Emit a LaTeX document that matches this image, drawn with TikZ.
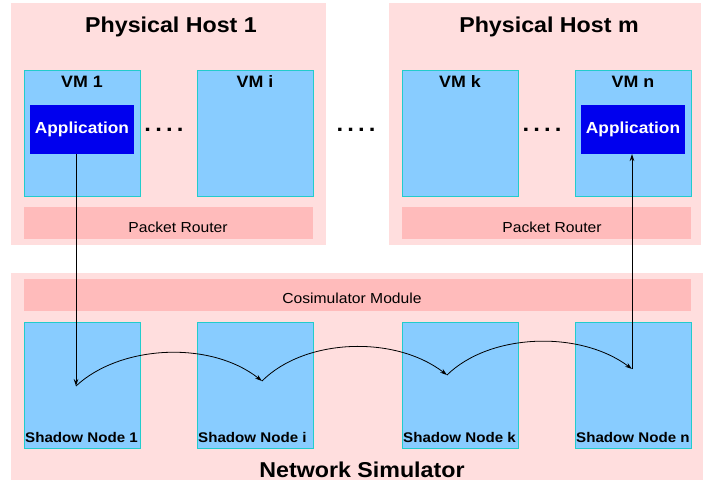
\documentclass[tikz,border=0pt]{standalone}
\usepackage{fontspec}
\setmainfont[FakeStretch=1.08]{Liberation Sans}
\usetikzlibrary{arrows.meta}
\definecolor{hostbg}{HTML}{FFDEDE}
\definecolor{router}{HTML}{FFBBBB}
\definecolor{vmfill}{HTML}{88CCFF}
\definecolor{vmline}{HTML}{22CCCC}
\definecolor{appfill}{HTML}{0000EE}
\tikzset{
  hostbox/.style={fill=hostbg, draw=none, inner sep=0pt, outer sep=0pt},
  routerbox/.style={fill=router, draw=none, inner sep=0pt, outer sep=0pt},
  vmbox/.style={fill=vmfill, draw=vmline, line width=0.8pt, inner sep=0pt, outer sep=0pt, minimum width=116pt, minimum height=126pt},
  appbox/.style={fill=appfill, draw=none, inner sep=0pt, outer sep=0pt, minimum width=104pt, minimum height=49pt, text=white, font=\bfseries\fontsize{16}{16}\selectfont},
  titletext/.style={font=\bfseries\fontsize{21.5}{22}\selectfont, anchor=base, inner sep=0pt},
  vmtext/.style={font=\bfseries\fontsize{16.5}{17}\selectfont, anchor=base, inner sep=0pt},
  routertext/.style={font=\fontsize{14.5}{15}\selectfont, anchor=base, inner sep=0pt},
  shadowtext/.style={font=\bfseries\fontsize{14}{14}\selectfont, anchor=base west, inner sep=0pt},
  dotstext/.style={font=\bfseries\fontsize{22}{22}\selectfont, anchor=base, inner sep=0pt},
  flow/.style={line width=0.8pt, -{Stealth[length=7pt,width=4.5pt]}}
}
\newcommand{\fourdots}{.\hspace{4.2pt}.\hspace{4.2pt}.\hspace{4.2pt}.}
\begin{document}
\begin{tikzpicture}[x=1pt,y=-1pt]
\useasboundingbox (0,0) rectangle (708,480);
% physical hosts
\node[hostbox, minimum width=315pt, minimum height=242pt] (host1) at (168.5,124) {};
\node[hostbox, minimum width=312pt, minimum height=242pt] (hostm) at (545,124) {};
\node[titletext] (t1) at (171,32) {Physical Host 1};
\node[titletext] (tm) at (549,32) {Physical Host m};
% VMs
\node[vmbox] (vm1) at (82,133) {};
\node[vmbox] (vmi) at (255,133) {};
\node[vmbox] (vmk) at (460,133) {};
\node[vmbox] (vmn) at (633,133) {};
\node[vmtext] (lvm1) at (82,87) {VM 1};
\node[vmtext] (lvmi) at (255,87) {VM i};
\node[vmtext] (lvmk) at (460,87) {VM k};
\node[vmtext] (lvmn) at (633,87) {VM n};
% applications
\node[appbox] (app1) at (82,129.5) {Application};
\node[appbox] (appn) at (633,129.5) {Application};
% dots
\node[dotstext] (d1) at (164,131) {\fourdots};
\node[dotstext] (d2) at (356,131) {\fourdots};
\node[dotstext] (d3) at (542,131) {\fourdots};
% packet routers
\node[routerbox, minimum width=289pt, minimum height=32pt] (pr1) at (168.5,223) {};
\node[routerbox, minimum width=289pt, minimum height=32pt] (prm) at (546.5,223) {};
\node[routertext] (lpr1) at (178,232) {Packet Router};
\node[routertext] (lprm) at (552,232) {Packet Router};
% network simulator
\node[hostbox, minimum width=692pt, minimum height=207pt] (netsim) at (357,376.5) {};
\node[routerbox, minimum width=667pt, minimum height=32pt] (cosim) at (357.5,295) {};
\node[routertext] (lcosim) at (352,303) {Cosimulator Module};
\node[vmbox] (sn1) at (82,385) {};
\node[vmbox] (sni) at (255,385) {};
\node[vmbox] (snk) at (460,385) {};
\node[vmbox] (snn) at (633,385) {};
\node[shadowtext] (lsn1) at (25,442) {Shadow Node 1};
\node[shadowtext] (lsni) at (198,442) {Shadow Node i};
\node[shadowtext] (lsnk) at (403,442) {Shadow Node k};
\node[shadowtext] (lsnn) at (576,442) {Shadow Node n};
\node[titletext] (tnet) at (362,477) {Network Simulator};
% flow points
\coordinate (p1) at (76,386);
\coordinate (p2) at (262,381);
\coordinate (p3) at (447,375);
\coordinate (p4) at (632,369);
% connectors
\draw[flow] (app1.south -| p1) -- (p1);
\draw[flow] (p1) .. controls (120,345) and (210,340) .. (p2);
\draw[flow] (p2) .. controls (305,338) and (395,335) .. (p3);
\draw[flow] (p3) .. controls (490,333) and (580,330) .. (p4);
\draw[flow] (p4) -- (appn.south -| p4);
\end{tikzpicture}
\end{document}
